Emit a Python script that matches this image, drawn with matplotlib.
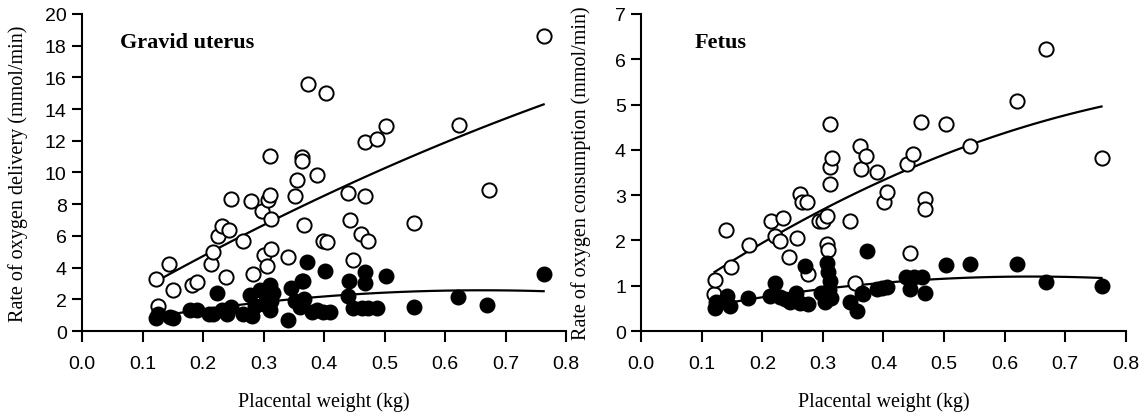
import numpy as np
import matplotlib
matplotlib.use("Agg")
import matplotlib.pyplot as plt

# Gravid uterus: oxygen delivery (open) and consumption (filled), mmol/min
uterus_open_x = [0.123, 0.125, 0.144, 0.151, 0.181, 0.190, 0.213, 0.217, 0.224, 0.231,
                 0.243, 0.238, 0.246, 0.266, 0.279, 0.283, 0.297, 0.301, 0.305, 0.308,
                 0.310, 0.312, 0.312, 0.311, 0.340, 0.352, 0.355, 0.363, 0.363, 0.367,
                 0.373, 0.389, 0.399, 0.405, 0.403, 0.440, 0.443, 0.448, 0.461, 0.468,
                 0.468, 0.472, 0.487, 0.503, 0.548, 0.623, 0.672, 0.763]
uterus_open_y = [3.25, 1.6, 4.2, 2.6, 2.9, 3.1, 4.2, 5.0, 6.0, 6.6,
                 6.4, 3.4, 8.3, 5.65, 8.2, 3.6, 7.6, 4.8, 4.1, 8.25,
                 8.6, 5.15, 7.05, 11.05, 4.7, 8.5, 9.5, 11.0, 10.7, 6.7,
                 15.6, 9.85, 5.7, 5.6, 15.0, 8.7, 7.0, 4.5, 6.1, 11.9,
                 8.5, 5.7, 12.1, 12.9, 6.8, 13.0, 8.9, 18.6]

uterus_fill_x = [0.123, 0.125, 0.146, 0.151, 0.179, 0.190, 0.210, 0.217, 0.223, 0.231,
                 0.246, 0.240, 0.266, 0.281, 0.278, 0.286, 0.295, 0.300, 0.305, 0.310,
                 0.310, 0.312, 0.315, 0.341, 0.345, 0.352, 0.360, 0.363, 0.366, 0.367,
                 0.372, 0.380, 0.388, 0.399, 0.402, 0.410, 0.440, 0.442, 0.448, 0.462,
                 0.468, 0.468, 0.473, 0.487, 0.503, 0.548, 0.622, 0.670, 0.763]
uterus_fill_y = [0.82, 1.05, 0.9, 0.8, 1.3, 1.3, 1.1, 1.1, 2.4, 1.3,
                 1.5, 1.05, 1.05, 0.95, 2.3, 1.6, 2.6, 1.7, 2.1, 2.9,
                 1.3, 1.9, 2.4, 0.72, 2.7, 1.9, 1.5, 3.14, 3.14, 2.0,
                 4.34, 1.2, 1.35, 1.2, 3.78, 1.2, 2.2, 3.14, 1.46, 1.45,
                 3.73, 3.04, 1.45, 1.45, 3.46, 1.5, 2.13, 1.62, 3.6]

# Fetus
fetus_open_x = [0.121, 0.122, 0.140, 0.149, 0.178, 0.215, 0.221, 0.229, 0.234, 0.244,
                0.257, 0.262, 0.265, 0.273, 0.276, 0.294, 0.300, 0.307, 0.3075, 0.309,
                0.311, 0.311, 0.315, 0.311, 0.345, 0.353, 0.361, 0.363, 0.371, 0.389,
                0.401, 0.4065, 0.4395, 0.443, 0.4485, 0.4615, 0.4686, 0.4686, 0.503, 0.543,
                0.620, 0.668, 0.760]
fetus_open_y = [0.82, 1.13, 2.24, 1.41, 1.9, 2.42, 2.09, 1.99, 2.49, 1.63,
                2.05, 3.02, 2.85, 2.85, 1.26, 2.42, 2.42, 2.55, 1.92, 1.79,
                3.25, 3.61, 3.83, 4.57, 2.43, 1.07, 4.09, 3.58, 3.87, 3.5,
                2.85, 3.06, 3.69, 1.72, 3.91, 4.61, 2.91, 2.69, 4.58, 4.09,
                5.08, 6.23, 3.81]

fetus_fill_x = [0.122, 0.124, 0.141, 0.147, 0.177, 0.213, 0.221, 0.229, 0.237, 0.246,
                0.255, 0.262, 0.270, 0.275, 0.297, 0.303, 0.307, 0.308, 0.312, 0.310,
                0.314, 0.345, 0.356, 0.364, 0.366, 0.372, 0.389, 0.397, 0.405, 0.438,
                0.443, 0.450, 0.463, 0.469, 0.503, 0.543, 0.620, 0.669, 0.760]
fetus_fill_y = [0.5, 0.63, 0.78, 0.55, 0.74, 0.78, 1.07, 0.75, 0.7, 0.65,
                0.85, 0.62, 1.44, 0.6, 0.85, 0.65, 1.5, 1.3, 1.1, 0.9,
                0.72, 0.63, 0.45, 0.84, 0.82, 1.77, 0.93, 0.95, 0.97, 1.19,
                0.93, 1.2, 1.19, 0.84, 1.46, 1.49, 1.49, 1.09, 0.99]

xticks = [0.0, 0.1, 0.2, 0.3, 0.4, 0.5, 0.6, 0.7, 0.8]

serif = ["Liberation Serif", "DejaVu Serif"]
sans = ["Liberation Sans", "DejaVu Sans"]

fig = plt.figure(figsize=(11.47, 4.14), dpi=100)
ax1 = fig.add_axes([0.0715, 0.198, 0.422, 0.766])
ax2 = fig.add_axes([0.559, 0.198, 0.4225, 0.766])


def fit_line(ax, x, y):
    x = np.array(x)
    c = np.polyfit(x, y, 2)
    xs = np.linspace(x.min(), x.max(), 100)
    ax.plot(xs, np.polyval(c, xs), color="black", lw=1.6, zorder=1)


def style(ax, ymax, ystep, ylabel, title, title_x, ylab_x):
    for s in ["top", "right"]:
        ax.spines[s].set_visible(False)
    for s in ["left", "bottom"]:
        ax.spines[s].set_linewidth(1.5)
    ax.set_xlim(0, 0.8)
    ax.set_ylim(0, ymax)
    ax.set_xticks(xticks)
    ax.set_xticklabels([f"{t:.1f}" for t in xticks], family=sans, fontsize=14)
    yt = np.arange(0, ymax + 0.01, ystep)
    ax.set_yticks(yt)
    ax.set_yticklabels([f"{t:g}" for t in yt], family=sans, fontsize=14)
    ax.tick_params(direction="out", width=1.5)
    ax.tick_params(axis="x", length=8, pad=9)
    ax.tick_params(axis="y", length=7, pad=4)
    ax.set_xlabel("Placental weight (kg)", family=serif, fontsize=14.5)
    ax.xaxis.set_label_coords(0.5, -0.19)
    ax.set_ylabel(ylabel, family=serif, fontsize=14.5)
    ax.yaxis.set_label_coords(ylab_x, 0.5)
    ax.text(title_x, 0.912, title, transform=ax.transAxes, family=serif,
            fontweight="bold", fontsize=16, va="center")


for ax, ox, oy, fx, fy in [(ax1, uterus_open_x, uterus_open_y, uterus_fill_x, uterus_fill_y),
                           (ax2, fetus_open_x, fetus_open_y, fetus_fill_x, fetus_fill_y)]:
    fit_line(ax, ox, oy)
    fit_line(ax, fx, fy)
    ax.scatter(ox, oy, s=105, facecolors="white", edgecolors="black", linewidths=1.4, zorder=2)
    ax.scatter(fx, fy, s=110, facecolors="black", edgecolors="black", linewidths=1.0, zorder=3)

style(ax1, 20, 2, "Rate of oxygen delivery (mmol/min)", "Gravid uterus", 0.0785, -0.112)
style(ax2, 7, 1, "Rate of oxygen consumption (mmol/min)", "Fetus", 0.111, -0.103)

fig.savefig("out.png", dpi=100)
